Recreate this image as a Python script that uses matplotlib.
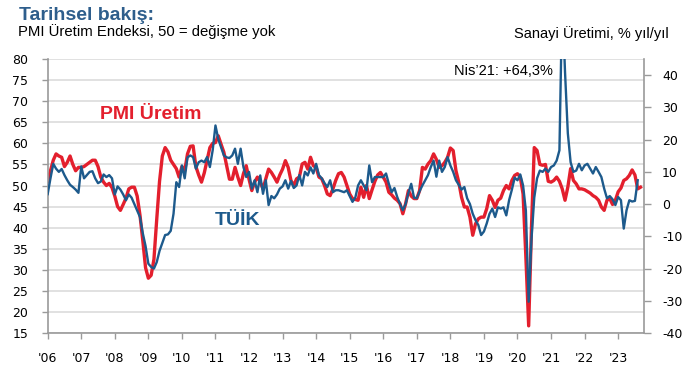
import matplotlib.pyplot as plt
import numpy as np

plt.rcParams['font.family'] = ['DejaVu Sans']
plt.rcParams['axes.unicode_minus'] = False

# PMI output index (left axis), monthly from Jan 2006
pmi_output = [
    51, 53.5, 56, 57.5, 57, 56.7, 54.5, 55.5, 57, 55, 53.5, 54.3,
    54.3, 54.5, 55, 55.5, 56, 56, 54.5, 52, 50.8, 50, 50.5, 49.5,
    47.5, 45, 44.1, 45.5, 47, 49.2, 49.6, 49.6, 47.5, 43, 37, 30.5,
    28, 28.7, 32.5, 42, 51, 57, 59, 58, 56, 55, 54, 52,
    54.5, 53.5, 57.5, 59.3, 59.4, 54.5, 52.5, 50.8, 53, 56, 59, 60,
    60.2, 61.8, 59.8, 57.9, 54.7, 51.5, 51.5, 54.3, 52, 50, 52.8, 54.7,
    51.5, 48.8, 50.8, 52, 50.8, 49.2, 51.6, 53.9, 53.1, 52, 50.8, 52.5,
    53.9, 55.9, 54.3, 51.2, 50, 51.6, 52, 55.1, 55.5, 53.9, 56.7, 54.7,
    54.3, 52, 51.6, 50, 48, 47.6, 49.2, 51.2, 52.8, 53.1, 52, 50,
    48, 46.9, 46.7, 46.5, 49.6, 47.2, 50, 46.9, 49, 51, 52.5, 53.1,
    52, 50.8, 48.4, 47.8, 47, 46.5, 45.7, 43.3, 45.7, 48.8, 47.5, 46.9,
    46.9, 48.8, 54.3, 53.9, 55.1, 55.9, 57.5, 56.2, 54.3, 54.7, 55.5, 56.7,
    58.9, 58.3, 53.5, 50.8, 47.2, 44.9, 44.9, 42.5, 38.2, 40.9, 42.1, 42.5,
    42.5, 44.5, 47.6, 46.5, 44.8, 46.5, 47, 48.8, 50, 49.2, 51.2, 52.4,
    52.8, 52, 48, 33, 16.7, 40, 59, 58.3, 55, 54.8, 55, 51,
    50.8, 51.2, 52, 51, 49.2, 46.5, 49.6, 54, 51.2, 50.4, 49.2, 49.2,
    49, 48.6, 48.2, 47.6, 47.2, 46.5, 44.9, 44.1, 46.5, 46.9, 45.5, 46.5,
    48.5, 49.4, 51.2, 51.6, 52.4, 53.7, 52.5, 49.2, 49.6,
]

# TUIK industrial production, % y/y (right axis)
ip_yoy = [
    3.1, 8, 12.5, 11, 10, 10.9, 9, 7.4, 6, 5.3, 4.5, 3.5,
    11.7, 8, 9, 10, 10.2, 8, 6.5, 7, 9.2, 8.4, 9, 8,
    3, 5.5, 4.5, 3, 1.2, 3, 2, 0, -2, -4, -9, -13,
    -18.5, -19.5, -20, -18, -14.5, -12, -9.6, -9.4, -8.3, -3, 6.8, 5.3,
    12, 8, 14.5, 15.1, 14.6, 11, 13, 13.5, 13, 14.6, 11.5, 16.7,
    24.4, 20.2, 17.6, 15.1, 14.5, 14.3, 15.1, 17.2, 12.5, 17.2, 11.5, 8.4,
    10, 4.8, 7.4, 3.7, 8.9, 3.2, 7.4, -0.3, 2.5, 1.8, 3, 4.8,
    5.5, 7.4, 4.8, 7.2, 5, 5.8, 9, 5.8, 10, 8.9, 11.4, 9.5,
    12.5, 9, 8, 6.5, 5.3, 7.4, 3.7, 4.3, 4.3, 4, 3.7, 4.3,
    2.5, 0.7, 2, 5.8, 7.4, 5.8, 4.3, 12, 6.8, 8.4, 8.4, 8.4,
    8.4, 9.5, 6.3, 3.7, 5, 2.2, 0, -1.9, 0, 3.5, 6.3, 2,
    1.8, 4, 5.8, 7.4, 9, 11.5, 13.5, 8.5, 13.5, 10, 11.5, 14.6,
    12, 10, 7.4, 6, 4.5, 5.3, 1.8, 0, -3, -5, -6.5, -9.6,
    -8.5, -6, -3, -1.4, -4, -1, -1.4, -1, -3.5, 1.2, 4.5, 8.2,
    7.4, 9.2, 5.8, -2, -30.3, -11, 2, 8, 10.4, 10, 11, 10,
    11.5, 12, 13.5, 16.7, 64.3, 41, 22, 13, 10, 10.4, 12.5, 10.5,
    12, 12.5, 11, 9.5, 11.5, 10, 8.4, 4.8, 1.8, 2.5, 1.5, -0.3,
    2.2, 1.2, -7.6, -1.9, 1.2, 0.8, 1, 7.4,
]

years = list(range(2006, 2024))
year_labels = ["'%02d" % (y % 100) for y in years]

red = '#E31F2D'
blue = '#1D5A8C'
axis_gray = '#9A9A9A'

pmi_x = 2006 + np.arange(len(pmi_output)) / 12
ip_x = 2006 + np.arange(len(ip_yoy)) / 12

fig = plt.figure(figsize=(6.87, 3.74), dpi=100)
ax = fig.add_axes([0.0694, 0.1096, 0.868, 0.7324])
ax2 = ax.twinx()

ax.plot(pmi_x, pmi_output, color=red, lw=2.4, solid_joinstyle='round')
ax2.plot(ip_x, ip_yoy, color=blue, lw=1.7, solid_joinstyle='round')

ax.set_xlim(2006, 2023.77)
ax.set_ylim(15, 80)
ax.set_yticks(range(15, 81, 5))
ax2.set_ylim(-40, 45)
ax2.set_yticks(range(-40, 41, 10))
ax.set_xticks(years)
ax.set_xticklabels(year_labels)

ax.grid(axis='y', color='#D9D9D9', lw=1.1)
ax.set_axisbelow(True)

for a in (ax, ax2):
    for s in a.spines.values():
        s.set_visible(False)
ax.spines['left'].set_visible(True)
ax.spines['bottom'].set_visible(True)
ax2.spines['right'].set_visible(True)
for s in (ax.spines['left'], ax.spines['bottom'], ax2.spines['right']):
    s.set_color(axis_gray)
    s.set_linewidth(1.2)

ax.tick_params(axis='y', length=4, width=1, color=axis_gray, pad=10, labelsize=9)
ax.tick_params(axis='x', length=4, width=1, color=axis_gray, pad=10, labelsize=9)
ax2.tick_params(axis='y', length=5, width=1, color=axis_gray, pad=8, labelsize=9)

# series labels and the clipped spike note
ax.text(0.088, 0.78, 'PMI Üretim', transform=ax.transAxes, va='baseline',
        color=red, fontsize=14, fontweight='bold', family='Liberation Sans')
ax.text(0.281, 0.394, 'TÜİK', transform=ax.transAxes, va='baseline',
        color=blue, fontsize=14, fontweight='bold', family='Liberation Sans')
ax.text(0.7635, 0.9416, 'Nis’21: +64,3%', transform=ax.transAxes, ha='center',
        va='baseline', fontsize=10.5, family='Liberation Sans')

fig.text(19 / 687, 1 - 20.5 / 374, 'Tarihsel bakış:', color='#2E5E8C',
         fontsize=14, fontweight='bold', family='Liberation Sans', va='baseline')
fig.text(18.5 / 687, 1 - 36 / 374, 'PMI Üretim Endeksi, 50 = değişme yok',
         fontsize=10.7, family='Liberation Sans', va='baseline')
fig.text(669 / 687, 1 - 38 / 374, 'Sanayi Üretimi, % yıl/yıl', ha='right',
         fontsize=10.5, family='Liberation Sans', va='baseline')

fig.savefig('out.png', dpi=100)
